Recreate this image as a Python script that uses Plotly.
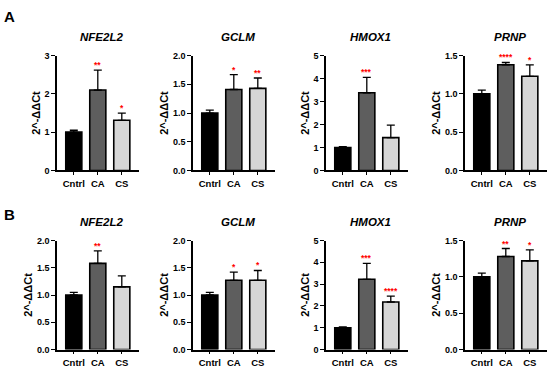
import plotly.graph_objects as go

categories = ["Cntrl", "CA", "CS"]
genes = ["NFE2L2", "GCLM", "HMOX1", "PRNP"]
bar_colors = ["#000000", "#5e5e5e", "#d6d6d6"]

# Panel A: means and upper SEM for each gene
a_nfe2l2 = [1.00, 2.10, 1.31]
a_nfe2l2_err = [0.05, 0.52, 0.19]
a_gclm = [1.00, 1.41, 1.43]
a_gclm_err = [0.05, 0.26, 0.18]
a_hmox1 = [1.00, 3.38, 1.43]
a_hmox1_err = [0.04, 0.67, 0.54]
a_prnp = [1.00, 1.38, 1.23]
a_prnp_err = [0.05, 0.03, 0.15]

# Panel B
b_nfe2l2 = [1.00, 1.58, 1.15]
b_nfe2l2_err = [0.05, 0.23, 0.20]
b_gclm = [1.00, 1.27, 1.27]
b_gclm_err = [0.05, 0.15, 0.18]
b_hmox1 = [1.00, 3.22, 2.18]
b_hmox1_err = [0.04, 0.73, 0.27]
b_prnp = [1.00, 1.28, 1.22]
b_prnp_err = [0.05, 0.11, 0.15]

# significance marks
a_stars = [["", "**", "*"], ["", "*", "**"], ["", "***", ""], ["", "****", "*"]]
b_stars = [["", "**", ""], ["", "*", "*"], ["", "***", "****"], ["", "**", "*"]]

# y-axis ranges and ticks
a_ymax = [3, 2.0, 5, 1.5]
a_dtick = [1, 0.5, 1, 0.5]
b_ymax = [2.0, 2.0, 5, 1.5]
b_dtick = [0.5, 0.5, 1, 0.5]

rows = [
    ([a_nfe2l2, a_gclm, a_hmox1, a_prnp],
     [a_nfe2l2_err, a_gclm_err, a_hmox1_err, a_prnp_err], a_stars, a_ymax, a_dtick),
    ([b_nfe2l2, b_gclm, b_hmox1, b_prnp],
     [b_nfe2l2_err, b_gclm_err, b_hmox1_err, b_prnp_err], b_stars, b_ymax, b_dtick),
]

W, H = 550, 373
x_left_px = [57, 193, 326, 465]
plot_w_px = 81.6
row_px = [(52, 170), (242, 354)]
title_px = [33, 223]

FONT = "Arial, Liberation Sans, sans-serif"
fig = go.Figure()
annotations = []
layout_axes = {}

idx = 0
for r, (means, errs, stars, ymaxs, dticks) in enumerate(rows):
    for c in range(4):
        idx += 1
        xa = "x" if idx == 1 else f"x{idx}"
        ya = "y" if idx == 1 else f"y{idx}"
        fig.add_trace(go.Bar(
            x=categories, y=means[c],
            marker=dict(color=bar_colors, line=dict(color="black", width=1.6)),
            width=0.67,
            error_y=dict(type="data", symmetric=False, array=errs[c],
                         arrayminus=[0, 0, 0], color="black",
                         thickness=1.3, width=4),
            xaxis=xa, yaxis=ya, showlegend=False,
        ))
        x0 = x_left_px[c] / W
        x1 = (x_left_px[c] + plot_w_px) / W
        top, bot = row_px[r]
        y0 = 1 - bot / H
        y1 = 1 - top / H
        fmt = ".1f" if dticks[c] < 1 else "d"
        layout_axes["xaxis" if idx == 1 else f"xaxis{idx}"] = dict(
            domain=[x0, x1], anchor=ya, range=[-0.7, 2.7],
            showline=True, linecolor="black", linewidth=1.5,
            ticks="outside", ticklen=3, tickwidth=1.2, tickcolor="black",
            tickfont=dict(family=FONT, size=9.5, color="black", weight="bold"),
            showgrid=False, zeroline=False, fixedrange=True,
        )
        layout_axes["yaxis" if idx == 1 else f"yaxis{idx}"] = dict(
            domain=[y0, y1], anchor=xa, range=[0, ymaxs[c]], dtick=dticks[c],
            tick0=0, tickformat=fmt,
            showline=True, linecolor="black", linewidth=1.5,
            ticks="outside", ticklen=4, tickwidth=1.3, tickcolor="black",
            tickfont=dict(family=FONT, size=9, color="black", weight="bold"),
            title=dict(text="2^-ΔΔCt", standoff=2,
                       font=dict(family=FONT, size=11, color="black", weight="bold")),
            showgrid=False, zeroline=False, fixedrange=True,
        )
        # gene title
        annotations.append(dict(
            text=f"<b><i>{genes[c]}</i></b>", xref="paper", yref="paper",
            x=(x0 + x1) / 2 + 4 / W, y=1 - title_px[r] / H, showarrow=False,
            xanchor="center", yanchor="middle",
            font=dict(family=FONT, size=11.5, color="black"),
        ))
        # stars
        for k in range(3):
            if stars[c][k]:
                annotations.append(dict(
                    text=f"<b>{stars[c][k]}</b>", xref=xa, yref=ya,
                    x=categories[k], y=means[c][k] + errs[c][k],
                    showarrow=False, xanchor="center", yanchor="bottom",
                    yshift=-2, font=dict(family=FONT, size=8.5, color="#ff0000"),
                ))

for letter, ypx in [("A", 12), ("B", 215)]:
    annotations.append(dict(
        text=f"<b>{letter}</b>", xref="paper", yref="paper",
        x=2 / W, y=1 - ypx / H, showarrow=False, xanchor="left",
        yanchor="middle", font=dict(family=FONT, size=15, color="black"),
    ))

fig.update_layout(
    width=W, height=H, margin=dict(l=0, r=0, t=0, b=0),
    paper_bgcolor="white", plot_bgcolor="white",
    annotations=annotations, bargap=0.33, **layout_axes,
)
fig.write_html(
    "out.html",
    config={"displayModeBar": False},
    post_script="document.body.style.margin='0';document.body.style.overflow='hidden';",
)
